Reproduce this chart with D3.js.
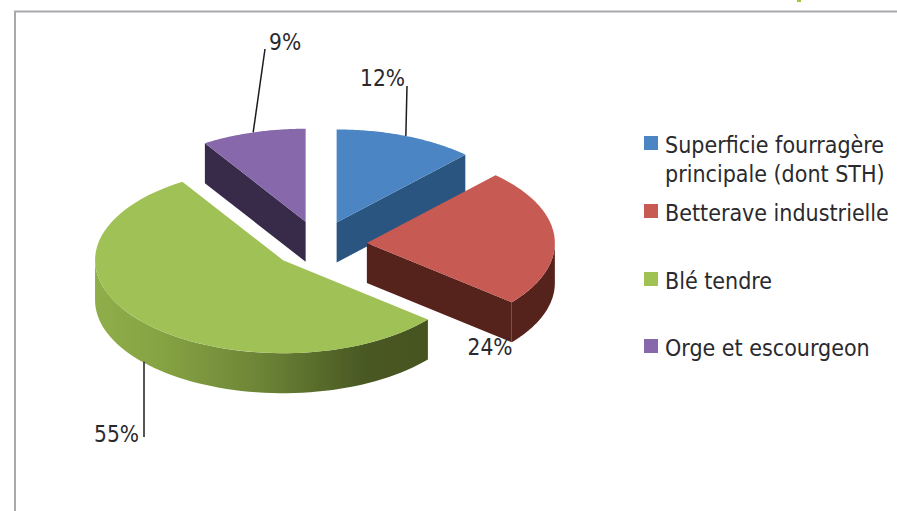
<!DOCTYPE html>
<html lang="fr">
<head>
    <meta charset="UTF-8">
    <title>Assolement</title>
    <script src="https://d3js.org/d3.v7.min.js"></script>
    <style>
        html, body { margin: 0; padding: 0; background: #fff; overflow: hidden; }
        text { font-family: "DejaVu Sans Condensed", "DejaVu Sans", sans-serif; font-stretch: condensed; fill: #2a2a2e; }
    </style>
</head>
<body>
    <script>
        // Data
        const categories = ['Superficie fourragère', 'Betterave industrielle', 'Blé tendre', 'Orge et escourgeon'];
        const categorySecondLine = ['principale (dont STH)', null, null, null];
        const values = [12, 24, 55, 9];
        const topColors = ['#4b85c4', '#c75a52', '#a0c154', '#8768aa'];
        const wallColors = ['#2c5580', '#56201a', '#6a8033', '#37294a'];

        const width = 897, height = 511;
        const center = {x: 319, y: 244.5};
        const rx = 188, ry = 93, depth = 40, explode = 0.255;

        const svg = d3.select('body').append('svg')
            .attr('width', width)
            .attr('height', height);

        const defs = svg.append('defs');
        const wallGradient = defs.append('linearGradient')
            .attr('id', 'green-wall')
            .attr('gradientUnits', 'userSpaceOnUse')
            .attr('x1', 96).attr('x2', 427).attr('y1', 0).attr('y2', 0);
        wallGradient.selectAll('stop')
            .data([[0, '#8fad49'], [0.2, '#86a343'], [0.5, '#6c8436'], [0.8, '#4a5a24'], [1, '#46531f']])
            .enter().append('stop')
            .attr('offset', d => d[0])
            .attr('stop-color', d => d[1]);

        defs.append('filter').attr('id', 'soft')
            .append('feGaussianBlur').attr('stdDeviation', 0.5);

        // Frame of the chart, cut off by the crop on the right and at the bottom
        svg.append('path')
            .attr('d', `M15,${height}V11.5H${width}`)
            .attr('fill', 'none')
            .attr('stroke', '#a9a9ad')
            .attr('stroke-width', 2);
        svg.append('rect')
            .attr('x', 797).attr('y', 0).attr('width', 4).attr('height', 2)
            .attr('fill', '#9ecb3c');

        const pie = d3.pie().sort(null).value(d => d);
        const slices = pie(values).map((d, i) => {
            const mid = (d.startAngle + d.endAngle) / 2;
            return {
                i, start: d.startAngle, end: d.endAngle, mid,
                apex: {
                    x: center.x + explode * rx * Math.sin(mid),
                    y: center.y - explode * ry * Math.cos(mid)
                }
            };
        });

        // Angle on the pie -> point on the flattened disc of a slice
        const rim = (s, a, drop = 0) => [
            s.apex.x + rx * Math.sin(a),
            s.apex.y - ry * Math.cos(a) + drop
        ];
        const arcPoints = (s, a0, a1, drop = 0) =>
            d3.range(0, 61).map(k => rim(s, a0 + (a1 - a0) * k / 60, drop));

        const line = d3.line();
        const pieG = svg.append('g').attr('filter', 'url(#soft)');

        // Back slices first so the front ones cover them
        [3, 0, 1, 2].forEach(i => {
            const s = slices[i];
            const apex = [s.apex.x, s.apex.y];
            const apexLow = [s.apex.x, s.apex.y + depth];

            // Radial wall that faces the viewer
            const wallAngle = i === 3 ? s.start : (i === 2 ? null : s.end);
            if (wallAngle !== null) {
                pieG.append('path')
                    .attr('d', line([apex, rim(s, wallAngle), rim(s, wallAngle, depth), apexLow]) + 'Z')
                    .attr('fill', wallColors[i]);
            }

            // Outer wall on the front half of the disc
            const a0 = Math.max(s.start, Math.PI / 2);
            const a1 = Math.min(s.end, Math.PI * 1.5);
            if (a0 < a1) {
                const upper = arcPoints(s, a0, a1);
                const lower = arcPoints(s, a0, a1, depth).reverse();
                pieG.append('path')
                    .attr('d', line(upper.concat(lower)) + 'Z')
                    .attr('fill', i === 2 ? 'url(#green-wall)' : wallColors[i]);
            }

            // Top face
            pieG.append('path')
                .attr('d', line([apex].concat(arcPoints(s, s.start, s.end))) + 'Z')
                .attr('fill', topColors[i]);
        });

        // Data labels with their leader lines
        const labelLayout = [
            {x: 405, y: 86, anchor: 'end', leaderEnd: [407, 86], drop: 0},
            {x: 490, y: 355, anchor: 'middle', leaderEnd: null, drop: 0},
            {x: 139, y: 442, anchor: 'end', leaderEnd: [144, 437], drop: depth, vertical: true},
            {x: 269, y: 50, anchor: 'start', leaderEnd: [265, 49], drop: 0}
        ];
        slices.forEach((s, i) => {
            const l = labelLayout[i];
            if (l.leaderEnd) {
                const from = rim(s, s.mid, l.drop);
                if (l.vertical) from[0] = l.leaderEnd[0];
                svg.append('path')
                    .attr('d', line([from, l.leaderEnd]))
                    .attr('stroke', '#1c1c20')
                    .attr('stroke-width', 1.5)
                    .attr('fill', 'none');
            }
            svg.append('text')
                .attr('x', l.x)
                .attr('y', l.y)
                .attr('text-anchor', l.anchor)
                .attr('font-size', 22.5)
                .text(values[i] + '%');
        });

        // Legend
        const legendX = 644, textX = 665;
        const legendSwatchY = [143, 211, 279, 346];
        categories.forEach((name, i) => {
            svg.append('rect')
                .attr('x', legendX)
                .attr('y', legendSwatchY[i] - 7)
                .attr('width', 14)
                .attr('height', 14)
                .attr('fill', topColors[i]);
            svg.append('text')
                .attr('x', textX)
                .attr('y', legendSwatchY[i] + 9.5)
                .attr('font-size', 23)
                .text(name);
            if (categorySecondLine[i]) {
                svg.append('text')
                    .attr('x', textX)
                    .attr('y', legendSwatchY[i] + 38.5)
                    .attr('font-size', 23)
                    .text(categorySecondLine[i]);
            }
        });
    </script>
</body>
</html>
